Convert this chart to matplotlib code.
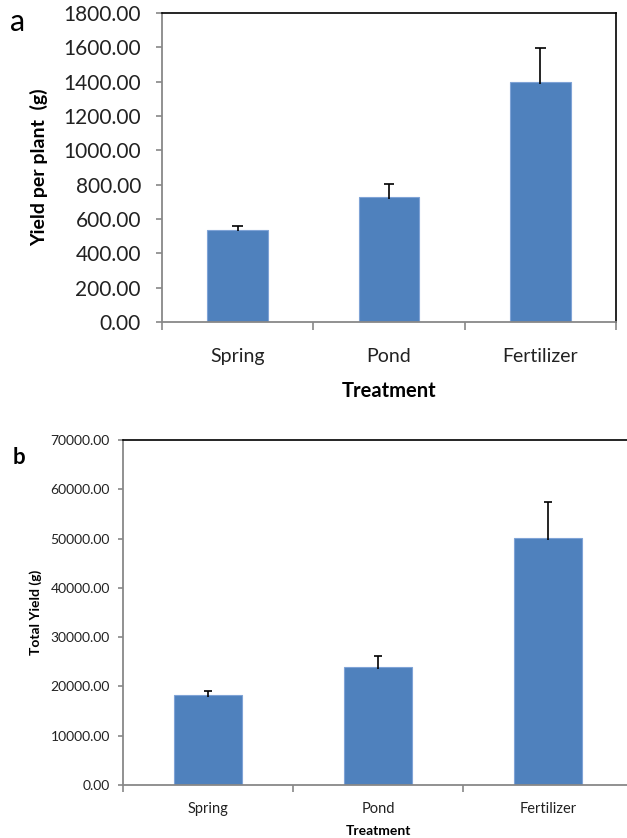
import matplotlib
matplotlib.use("Agg")
import matplotlib.pyplot as plt
import numpy as np

categories = ["Spring", "Pond", "Fertilizer"]
yield_per_plant = [538, 728, 1396]
yield_per_plant_err = [20, 76, 198]
total_yield = [18330, 23870, 50180]
total_yield_err = [740, 2230, 7240]

plt.rcParams['font.family'] = ['Lato', 'DejaVu Sans']

fig = plt.figure(figsize=(6.27, 8.38), dpi=100)
bar_color = "#4F81BD"
gray = "#888888"


def style(ax, ymax, ystep, tick_fs, ylabel, ylabel_fs, xl_fs, cat_fs, pad_y, xtick_len, cap_half, err, vals):
    x = np.arange(len(categories))
    vals = np.asarray(vals, dtype=float)
    err = np.asarray(err, dtype=float)
    ax.bar(x, vals, width=0.4, color=bar_color, edgecolor="#7FA3D6", linewidth=0.8, zorder=2)
    ax.vlines(x, vals - 0.006 * ymax, vals + err, color='black', linewidth=1.2, zorder=3)
    ax.hlines(vals + err, x - cap_half, x + cap_half, color='black', linewidth=1.2, zorder=3)
    ax.set_xlim(-0.5, len(categories) - 0.5)
    ax.set_ylim(0, ymax)
    ax.set_yticks(np.arange(0, ymax + 1, ystep))
    ax.set_yticklabels([f"{v:.2f}" for v in np.arange(0, ymax + 1, ystep)], fontsize=tick_fs, color="#222222")
    ax.set_xticks(x)
    ax.set_xticklabels(categories, fontsize=cat_fs, color="#222222")
    ax.set_xticks(np.arange(-0.5, len(categories)), minor=True)
    ax.tick_params(axis='x', which='major', length=0, pad=pad_y)
    ax.tick_params(axis='x', which='minor', length=xtick_len, color=gray, width=1.2, direction='out')
    ax.tick_params(axis='y', length=xtick_len * 0.7, color=gray, width=1.2, direction='out')
    for s in ['left', 'bottom']:
        ax.spines[s].set_color(gray)
        ax.spines[s].set_linewidth(1.3)
    for s in ['top', 'right']:
        ax.spines[s].set_color('black')
        ax.spines[s].set_linewidth(1.2)
    ax.set_ylabel(ylabel, fontsize=ylabel_fs, fontweight='bold')
    ax.set_xlabel("Treatment", fontsize=xl_fs, fontweight='bold')


ax1 = fig.add_axes([162 / 627, 1 - 322 / 838, (616 - 162) / 627, (322 - 13) / 838])
style(ax1, 1800, 200, 15, "Yield per plant  (g)", 14, 14.5, 14, 19, 6, 0.035, yield_per_plant_err, yield_per_plant)
ax1.tick_params(axis='y', pad=11)
ax1.yaxis.set_label_coords(-0.25, 0.5)
ax1.xaxis.set_label_coords(0.5, -0.19)

ax2 = fig.add_axes([123 / 627, 1 - 785 / 838, (633 - 123) / 627, (785 - 440) / 838])
style(ax2, 70000, 10000, 10, "Total Yield (g)", 10, 10, 10.5, 12, 5, 0.022, total_yield_err, total_yield)
ax2.tick_params(axis='y', pad=6)
ax2.yaxis.set_label_coords(-0.158, 0.5)
ax2.xaxis.set_label_coords(0.5, -0.115)

fig.text(10 / 627, 1 - 22 / 838, "a", fontsize=22, va='center', ha='left')
fig.text(13 / 627, 1 - 457 / 838, "b", fontsize=16, fontweight='bold', va='center', ha='left')

fig.savefig("out.png", dpi=100)
